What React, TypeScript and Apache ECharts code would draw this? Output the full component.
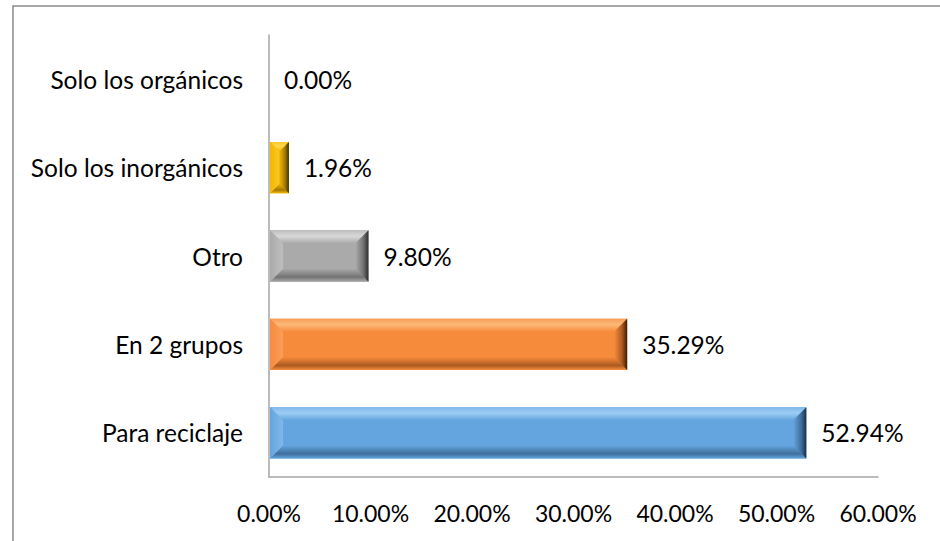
import React, { useEffect, useRef } from "react";
import * as echarts from "echarts";

const categories = [
  "Para reciclaje",
  "En 2 grupos",
  "Otro",
  "Solo los inorgánicos",
  "Solo los orgánicos",
];
const values = [52.94, 35.29, 9.8, 1.96, 0.0];
const xTicks = [0, 10, 20, 30, 40, 50, 60];

const palettes = [
  { main: "#64a5df", light: "#9dcdf4", mid: "#80b8e9", dark: "#3f6f9c", edge: "#162f47" },
  { main: "#f78b3c", light: "#fcb978", mid: "#f89e59", dark: "#ab5a20", edge: "#3d1c04" },
  { main: "#aaaaaa", light: "#d8d8d8", mid: "#bebebe", dark: "#727272", edge: "#2e2e2e" },
  { main: "#f2b600", light: "#ffd94d", mid: "#f8c829", dark: "#a37a00", edge: "#3f2f00" },
  { main: "#64a5df", light: "#9dcdf4", mid: "#80b8e9", dark: "#3f6f9c", edge: "#162f47" },
];

const FONT = "Lato";

export default function App() {
  const ref = useRef<HTMLDivElement>(null);
  useEffect(() => {
    const chart = echarts.init(ref.current!, null, { renderer: "svg" });
    const LG = echarts.graphic.LinearGradient;
    const option: any = {
      animation: false,
      backgroundColor: "#ffffff",
      grid: { left: 269, right: 62, top: 35, bottom: 64, containLabel: false },
      graphic: [
        {
          type: "polyline",
          shape: { points: [[13, 541], [13, 6], [940, 6]] },
          style: { stroke: "#8a8a8a", lineWidth: 1.5, fill: null },
          silent: true,
        },
      ],
      xAxis: {
        type: "value",
        min: 0,
        max: 60,
        interval: 10,
        axisLine: { show: true, onZero: false, lineStyle: { color: "#a6a6a6", width: 1.5 } },
        axisTick: { show: false },
        splitLine: { show: false },
        axisLabel: {
          margin: 24,
          fontFamily: FONT,
          fontSize: 23,
          color: "#000",
          formatter: (v: number) => (xTicks.includes(v) ? v.toFixed(2) + "%" : ""),
        },
      },
      yAxis: {
        type: "category",
        data: categories,
        axisLine: { show: true, lineStyle: { color: "#a6a6a6", width: 1.5 } },
        axisTick: { show: false },
        axisLabel: { margin: 26, fontFamily: FONT, fontSize: 24.5, color: "#000" },
      },
      series: [
        {
          type: "custom",
          encode: { x: 0, y: 1 },
          data: values.map((v, i) => [v, i]),
          renderItem: (params: any, api: any) => {
            const val = api.value(0);
            const ci = api.value(1);
            const p0 = api.coord([0, ci]);
            const p1 = api.coord([val, ci]);
            const band = api.size([0, 1])[1];
            const h = band * 0.58;
            const x0 = p0[0] + 1;
            const x1 = p1[0];
            const y0 = p0[1] - h / 2;
            const y1 = p0[1] + h / 2;
            const w = x1 - x0;
            const pal = palettes[params.dataIndex];
            const children: any[] = [];
            if (w > 0.5) {
              const b = Math.min(13, w / 2, h / 2);
              children.push({
                type: "rect",
                shape: { x: x0, y: y0, width: w, height: h },
                style: { fill: pal.main },
              });
              children.push({
                type: "polygon",
                shape: { points: [[x0, y0], [x1, y0], [x1 - b, y0 + b], [x0 + b, y0 + b]] },
                style: {
                  fill: new LG(0, 0, 0, 1, [
                    { offset: 0, color: pal.mid },
                    { offset: 0.45, color: pal.light },
                    { offset: 1, color: pal.main },
                  ]),
                },
              });
              children.push({
                type: "polygon",
                shape: { points: [[x0, y1], [x1, y1], [x1 - b, y1 - b], [x0 + b, y1 - b]] },
                style: {
                  fill: new LG(0, 0, 0, 1, [
                    { offset: 0, color: pal.main },
                    { offset: 0.65, color: pal.dark },
                    { offset: 1, color: pal.main },
                  ]),
                },
              });
              children.push({
                type: "polygon",
                shape: { points: [[x0, y0], [x0 + b, y0 + b], [x0 + b, y1 - b], [x0, y1]] },
                style: {
                  fill: new LG(0, 0, 1, 0, [
                    { offset: 0, color: pal.main },
                    { offset: 1, color: pal.mid },
                  ]),
                },
              });
              children.push({
                type: "polygon",
                shape: { points: [[x1, y0], [x1 - b, y0 + b], [x1 - b, y1 - b], [x1, y1]] },
                style: {
                  fill: new LG(0, 0, 1, 0, [
                    { offset: 0, color: pal.main },
                    { offset: 0.6, color: pal.dark },
                    { offset: 1, color: pal.edge },
                  ]),
                },
              });
            }
            children.push({
              type: "text",
              style: {
                x: Math.max(x1, p0[0]) + 15,
                y: p0[1],
                text: val.toFixed(2) + "%",
                fontFamily: FONT,
                fontSize: 24.5,
                fill: "#000",
                verticalAlign: "middle",
                align: "left",
              },
            });
            return { type: "group", children };
          },
        },
      ],
    };
    chart.setOption(option);
    return () => chart.dispose();
  }, []);
  return (
    <div
      ref={ref}
      style={{ position: "fixed", left: 0, top: 0, width: 940, height: 541, background: "#fff" }}
    />
  );
}
